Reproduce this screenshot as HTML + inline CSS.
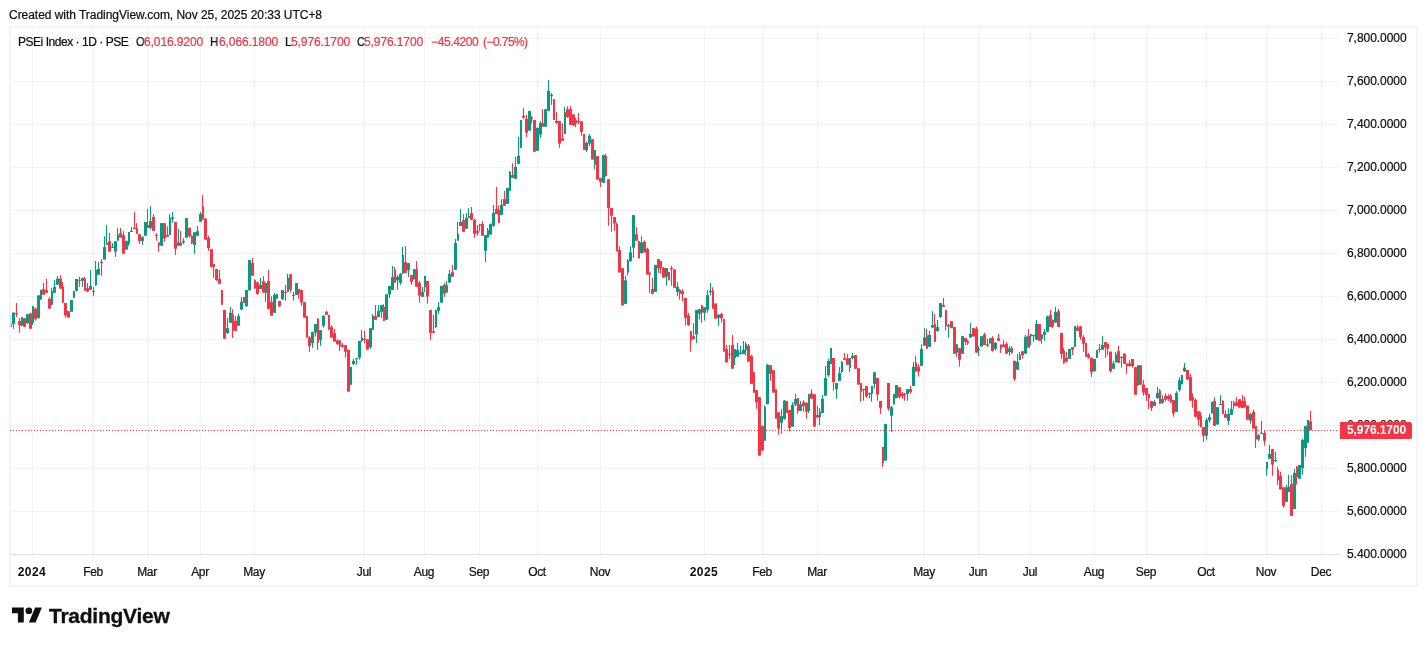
<!DOCTYPE html>
<html><head><meta charset="utf-8"><title>PSEi Index</title>
<style>
html,body{margin:0;padding:0;background:#fff;}
body{width:1427px;height:646px;position:relative;overflow:hidden;font-family:"Liberation Sans",sans-serif;color:#0f0f0f;}
.t,.pl,.tl{will-change:transform;-webkit-text-stroke:0.22px currentColor;}
.t{position:absolute;white-space:nowrap;font-size:12px;line-height:14px;}
.r{color:#f23645;}
.pl{position:absolute;left:1347px;width:60px;font-size:12px;line-height:14px;white-space:nowrap;}
.tl{position:absolute;top:565px;font-size:12px;line-height:14px;white-space:nowrap;transform:translateX(-50%);}
.b{font-weight:bold;-webkit-text-stroke:0;}
#tv{-webkit-text-stroke:0.3px currentColor;}
#pax{position:absolute;left:1340px;top:27px;width:76px;height:531px;overflow:hidden;}
</style></head><body>
<svg width="1427" height="646" viewBox="0 0 1427 646" style="position:absolute;left:0;top:0">
<rect x="32.00" y="27" width="1" height="531" fill="rgba(0,0,0,0.05)"/>
<rect x="93.00" y="27" width="1" height="531" fill="rgba(0,0,0,0.05)"/>
<rect x="147.00" y="27" width="1" height="531" fill="rgba(0,0,0,0.05)"/>
<rect x="200.00" y="27" width="1" height="531" fill="rgba(0,0,0,0.05)"/>
<rect x="254.00" y="27" width="1" height="531" fill="rgba(0,0,0,0.05)"/>
<rect x="364.00" y="27" width="1" height="531" fill="rgba(0,0,0,0.05)"/>
<rect x="424.00" y="27" width="1" height="531" fill="rgba(0,0,0,0.05)"/>
<rect x="479.00" y="27" width="1" height="531" fill="rgba(0,0,0,0.05)"/>
<rect x="537.00" y="27" width="1" height="531" fill="rgba(0,0,0,0.05)"/>
<rect x="600.00" y="27" width="1" height="531" fill="rgba(0,0,0,0.05)"/>
<rect x="704.00" y="27" width="1" height="531" fill="rgba(0,0,0,0.05)"/>
<rect x="762.00" y="27" width="1" height="531" fill="rgba(0,0,0,0.05)"/>
<rect x="817.00" y="27" width="1" height="531" fill="rgba(0,0,0,0.05)"/>
<rect x="924.00" y="27" width="1" height="531" fill="rgba(0,0,0,0.05)"/>
<rect x="978.00" y="27" width="1" height="531" fill="rgba(0,0,0,0.05)"/>
<rect x="1030.00" y="27" width="1" height="531" fill="rgba(0,0,0,0.05)"/>
<rect x="1094.00" y="27" width="1" height="531" fill="rgba(0,0,0,0.05)"/>
<rect x="1146.00" y="27" width="1" height="531" fill="rgba(0,0,0,0.05)"/>
<rect x="1206.00" y="27" width="1" height="531" fill="rgba(0,0,0,0.05)"/>
<rect x="1266.00" y="27" width="1" height="531" fill="rgba(0,0,0,0.05)"/>
<rect x="1321.00" y="27" width="1" height="531" fill="rgba(0,0,0,0.05)"/>
<rect x="11" y="38" width="1328" height="1" fill="rgba(0,0,0,0.05)"/>
<rect x="11" y="81" width="1328" height="1" fill="rgba(0,0,0,0.05)"/>
<rect x="11" y="124" width="1328" height="1" fill="rgba(0,0,0,0.05)"/>
<rect x="11" y="167" width="1328" height="1" fill="rgba(0,0,0,0.05)"/>
<rect x="11" y="210" width="1328" height="1" fill="rgba(0,0,0,0.05)"/>
<rect x="11" y="253" width="1328" height="1" fill="rgba(0,0,0,0.05)"/>
<rect x="11" y="296" width="1328" height="1" fill="rgba(0,0,0,0.05)"/>
<rect x="11" y="339" width="1328" height="1" fill="rgba(0,0,0,0.05)"/>
<rect x="11" y="382" width="1328" height="1" fill="rgba(0,0,0,0.05)"/>
<rect x="11" y="425" width="1328" height="1" fill="rgba(0,0,0,0.05)"/>
<rect x="11" y="468" width="1328" height="1" fill="rgba(0,0,0,0.05)"/>
<rect x="11" y="511" width="1328" height="1" fill="rgba(0,0,0,0.05)"/>
<rect x="11" y="554" width="1328" height="1" fill="rgba(0,0,0,0.05)"/>
<rect x="11" y="554" width="1328" height="1" fill="rgba(0,0,0,0.065)"/>
<rect x="9.95" y="26.75" width="1407.05" height="559.25" fill="none" stroke="#f3f3f3" stroke-width="1.8"/>
<defs><clipPath id="cp"><rect x="10.8" y="27.6" width="1328" height="527"/></clipPath></defs><g clip-path="url(#cp)">
<rect x="10.2" y="314.1" width="0.75" height="13.6" fill="#089981"/><rect x="10.9" y="323.5" width="0.9" height="3.7" fill="#089981"/>
<rect x="12.95" y="312.2" width="1.1" height="16.7" fill="#089981"/>
<rect x="12" y="312.7" width="3" height="11.2" fill="#089981"/>
<rect x="15.95" y="303.0" width="1.1" height="14.2" fill="#f23645"/>
<rect x="15" y="313.1" width="3" height="1.1" fill="#f23645"/>
<rect x="18.95" y="318.1" width="1.1" height="14.7" fill="#f23645"/>
<rect x="18" y="321.1" width="3" height="3.9" fill="#f23645"/>
<rect x="20.95" y="317.2" width="1.1" height="8.9" fill="#089981"/>
<rect x="21" y="317.2" width="2" height="8.6" fill="#089981"/>
<rect x="23.95" y="318.3" width="1.1" height="8.6" fill="#f23645"/>
<rect x="23" y="318.3" width="3" height="8.4" fill="#f23645"/>
<rect x="26.95" y="314.2" width="1.1" height="9.7" fill="#089981"/>
<rect x="26" y="314.2" width="3" height="8.9" fill="#089981"/>
<rect x="29.95" y="312.7" width="1.1" height="16.2" fill="#f23645"/>
<rect x="29" y="313.5" width="3" height="15.2" fill="#f23645"/>
<rect x="31.95" y="306.1" width="1.1" height="18.9" fill="#089981"/>
<rect x="32" y="306.1" width="2" height="17.0" fill="#089981"/>
<rect x="34.95" y="307.7" width="1.1" height="12.9" fill="#f23645"/>
<rect x="34" y="308.6" width="3" height="10.3" fill="#f23645"/>
<rect x="37.95" y="294.9" width="1.1" height="23.8" fill="#089981"/>
<rect x="37" y="295.5" width="3" height="22.3" fill="#089981"/>
<rect x="39.95" y="289.9" width="1.1" height="10.0" fill="#089981"/>
<rect x="40" y="289.9" width="2" height="9.5" fill="#089981"/>
<rect x="42.95" y="283.0" width="1.1" height="11.9" fill="#f23645"/>
<rect x="42" y="289.1" width="3" height="5.5" fill="#f23645"/>
<rect x="45.95" y="279.0" width="1.1" height="14.2" fill="#f23645"/>
<rect x="45" y="290.1" width="3" height="2.6" fill="#f23645"/>
<rect x="48.95" y="297.1" width="1.1" height="11.7" fill="#f23645"/>
<rect x="48" y="298.8" width="3" height="9.8" fill="#f23645"/>
<rect x="50.95" y="287.9" width="1.1" height="17.0" fill="#089981"/>
<rect x="51" y="291.2" width="2" height="13.5" fill="#089981"/>
<rect x="53.95" y="279.8" width="1.1" height="13.2" fill="#089981"/>
<rect x="53" y="287.1" width="3" height="5.6" fill="#089981"/>
<rect x="56.95" y="275.9" width="1.1" height="9.0" fill="#089981"/>
<rect x="56" y="278.7" width="3" height="5.9" fill="#089981"/>
<rect x="59.95" y="275.2" width="1.1" height="13.6" fill="#f23645"/>
<rect x="59" y="278.7" width="3" height="9.8" fill="#f23645"/>
<rect x="61.95" y="282.1" width="1.1" height="20.9" fill="#f23645"/>
<rect x="62" y="286.3" width="2" height="16.4" fill="#f23645"/>
<rect x="64.95" y="303.0" width="1.1" height="14.8" fill="#f23645"/>
<rect x="64" y="303.0" width="3" height="12.5" fill="#f23645"/>
<rect x="67.95" y="311.1" width="1.1" height="6.7" fill="#f23645"/>
<rect x="67" y="311.1" width="3" height="6.4" fill="#f23645"/>
<rect x="70.95" y="300.1" width="1.1" height="11.9" fill="#089981"/>
<rect x="70" y="300.1" width="3" height="11.5" fill="#089981"/>
<rect x="72.95" y="291.2" width="1.1" height="6.7" fill="#089981"/>
<rect x="73" y="291.2" width="2" height="6.5" fill="#089981"/>
<rect x="75.95" y="279.0" width="1.1" height="12.0" fill="#089981"/>
<rect x="75" y="279.0" width="3" height="11.8" fill="#089981"/>
<rect x="78.95" y="276.8" width="1.1" height="10.0" fill="#f23645"/>
<rect x="78" y="279.8" width="3" height="1.0" fill="#f23645"/>
<rect x="81.95" y="277.6" width="1.1" height="9.2" fill="#089981"/>
<rect x="81" y="278.2" width="3" height="2.5" fill="#089981"/>
<rect x="83.95" y="276.8" width="1.1" height="14.0" fill="#f23645"/>
<rect x="84" y="278.7" width="2" height="11.7" fill="#f23645"/>
<rect x="86.95" y="283.0" width="1.1" height="8.9" fill="#f23645"/>
<rect x="86" y="288.2" width="3" height="3.4" fill="#f23645"/>
<rect x="89.95" y="270.0" width="1.1" height="19.9" fill="#089981"/>
<rect x="89" y="286.0" width="3" height="3.7" fill="#089981"/>
<rect x="92.95" y="287.1" width="1.1" height="8.9" fill="#f23645"/>
<rect x="92" y="290.9" width="3" height="1.0" fill="#f23645"/>
<rect x="94.95" y="261.0" width="1.1" height="24.9" fill="#089981"/>
<rect x="95" y="269.7" width="2" height="15.6" fill="#089981"/>
<rect x="97.95" y="262.1" width="1.1" height="12.6" fill="#089981"/>
<rect x="97" y="269.1" width="3" height="5.6" fill="#089981"/>
<rect x="100.95" y="259.1" width="1.1" height="16.7" fill="#f23645"/>
<rect x="100" y="261.9" width="3" height="1.1" fill="#f23645"/>
<rect x="103.95" y="236.2" width="1.1" height="23.4" fill="#089981"/>
<rect x="103" y="247.2" width="3" height="12.4" fill="#089981"/>
<rect x="105.95" y="225.1" width="1.1" height="19.7" fill="#089981"/>
<rect x="106" y="242.9" width="2" height="1.9" fill="#089981"/>
<rect x="108.95" y="233.1" width="1.1" height="18.5" fill="#f23645"/>
<rect x="108" y="241.2" width="3" height="10.4" fill="#f23645"/>
<rect x="111.95" y="243.1" width="1.1" height="4.8" fill="#089981"/>
<rect x="111" y="246.8" width="3" height="1.1" fill="#089981"/>
<rect x="114.95" y="241.2" width="1.1" height="15.7" fill="#089981"/>
<rect x="114" y="241.2" width="3" height="10.4" fill="#089981"/>
<rect x="116.95" y="228.1" width="1.1" height="12.6" fill="#089981"/>
<rect x="117" y="234.9" width="2" height="5.8" fill="#089981"/>
<rect x="119.95" y="228.1" width="1.1" height="9.5" fill="#f23645"/>
<rect x="119" y="233.4" width="3" height="4.2" fill="#f23645"/>
<rect x="122.95" y="231.2" width="1.1" height="22.5" fill="#f23645"/>
<rect x="122" y="235.1" width="3" height="18.6" fill="#f23645"/>
<rect x="125.95" y="240.5" width="1.1" height="9.1" fill="#089981"/>
<rect x="125" y="241.2" width="3" height="8.4" fill="#089981"/>
<rect x="127.95" y="232.1" width="1.1" height="13.6" fill="#089981"/>
<rect x="128" y="232.1" width="2" height="11.7" fill="#089981"/>
<rect x="130.95" y="227.1" width="1.1" height="4.9" fill="#089981"/>
<rect x="130" y="230.9" width="3" height="1.1" fill="#089981"/>
<rect x="133.95" y="212.0" width="1.1" height="17.0" fill="#f23645"/>
<rect x="133" y="227.9" width="3" height="1.1" fill="#f23645"/>
<rect x="135.95" y="223.1" width="1.1" height="10.7" fill="#f23645"/>
<rect x="136" y="228.2" width="2" height="5.6" fill="#f23645"/>
<rect x="138.95" y="234.2" width="1.1" height="9.6" fill="#f23645"/>
<rect x="138" y="234.2" width="3" height="6.7" fill="#f23645"/>
<rect x="141.95" y="236.2" width="1.1" height="8.7" fill="#089981"/>
<rect x="141" y="237.3" width="3" height="3.6" fill="#089981"/>
<rect x="144.95" y="222.0" width="1.1" height="13.7" fill="#089981"/>
<rect x="144" y="222.0" width="3" height="13.7" fill="#089981"/>
<rect x="146.95" y="208.9" width="1.1" height="19.0" fill="#f23645"/>
<rect x="147" y="225.1" width="2" height="2.8" fill="#f23645"/>
<rect x="149.95" y="205.9" width="1.1" height="23.9" fill="#089981"/>
<rect x="149" y="221.2" width="3" height="6.7" fill="#089981"/>
<rect x="152.95" y="214.1" width="1.1" height="16.8" fill="#f23645"/>
<rect x="152" y="217.0" width="3" height="13.9" fill="#f23645"/>
<rect x="155.95" y="233.1" width="1.1" height="7.6" fill="#f23645"/>
<rect x="155" y="234.8" width="3" height="1.0" fill="#f23645"/>
<rect x="157.95" y="242.4" width="1.1" height="9.4" fill="#f23645"/>
<rect x="158" y="242.4" width="2" height="3.3" fill="#f23645"/>
<rect x="160.95" y="223.1" width="1.1" height="22.6" fill="#089981"/>
<rect x="160" y="223.1" width="3" height="22.6" fill="#089981"/>
<rect x="163.95" y="223.1" width="1.1" height="18.7" fill="#f23645"/>
<rect x="163" y="223.1" width="3" height="15.4" fill="#f23645"/>
<rect x="166.95" y="226.2" width="1.1" height="10.6" fill="#f23645"/>
<rect x="166" y="235.1" width="3" height="1.7" fill="#f23645"/>
<rect x="168.95" y="214.1" width="1.1" height="20.8" fill="#089981"/>
<rect x="169" y="217.8" width="2" height="17.1" fill="#089981"/>
<rect x="171.95" y="212.0" width="1.1" height="10.8" fill="#089981"/>
<rect x="171" y="217.3" width="3" height="1.6" fill="#089981"/>
<rect x="174.95" y="222.0" width="1.1" height="32.9" fill="#f23645"/>
<rect x="174" y="222.0" width="3" height="26.7" fill="#f23645"/>
<rect x="177.95" y="229.0" width="1.1" height="16.7" fill="#089981"/>
<rect x="177" y="242.4" width="3" height="3.3" fill="#089981"/>
<rect x="179.95" y="231.0" width="1.1" height="14.8" fill="#f23645"/>
<rect x="180" y="243.0" width="2" height="2.8" fill="#f23645"/>
<rect x="182.95" y="238.2" width="1.1" height="5.9" fill="#089981"/>
<rect x="182" y="241.1" width="3" height="1.3" fill="#089981"/>
<rect x="185.95" y="218.1" width="1.1" height="19.6" fill="#089981"/>
<rect x="185" y="218.1" width="3" height="19.6" fill="#089981"/>
<rect x="188.95" y="227.4" width="1.1" height="10.6" fill="#f23645"/>
<rect x="188" y="228.1" width="3" height="7.8" fill="#f23645"/>
<rect x="190.95" y="235.2" width="1.1" height="8.9" fill="#f23645"/>
<rect x="191" y="235.9" width="2" height="7.4" fill="#f23645"/>
<rect x="193.95" y="232.2" width="1.1" height="21.6" fill="#089981"/>
<rect x="193" y="232.2" width="3" height="12.7" fill="#089981"/>
<rect x="196.95" y="225.9" width="1.1" height="9.8" fill="#089981"/>
<rect x="196" y="231.3" width="3" height="4.4" fill="#089981"/>
<rect x="199.95" y="212.0" width="1.1" height="9.8" fill="#089981"/>
<rect x="199" y="214.0" width="3" height="7.8" fill="#089981"/>
<rect x="201.95" y="195.0" width="1.1" height="24.6" fill="#f23645"/>
<rect x="202" y="206.2" width="2" height="13.4" fill="#f23645"/>
<rect x="204.95" y="217.9" width="1.1" height="21.7" fill="#f23645"/>
<rect x="204" y="218.8" width="3" height="20.8" fill="#f23645"/>
<rect x="207.95" y="235.7" width="1.1" height="15.1" fill="#f23645"/>
<rect x="207" y="238.0" width="3" height="10.0" fill="#f23645"/>
<rect x="210.95" y="249.1" width="1.1" height="18.5" fill="#f23645"/>
<rect x="210" y="249.1" width="3" height="17.8" fill="#f23645"/>
<rect x="212.95" y="264.0" width="1.1" height="13.9" fill="#f23645"/>
<rect x="213" y="264.0" width="2" height="2.9" fill="#f23645"/>
<rect x="215.95" y="269.1" width="1.1" height="11.8" fill="#f23645"/>
<rect x="215" y="269.1" width="3" height="11.0" fill="#f23645"/>
<rect x="218.95" y="269.9" width="1.1" height="13.9" fill="#f23645"/>
<rect x="218" y="279.1" width="3" height="4.7" fill="#f23645"/>
<rect x="220.95" y="290.0" width="1.1" height="14.7" fill="#f23645"/>
<rect x="221" y="290.0" width="2" height="14.7" fill="#f23645"/>
<rect x="223.95" y="310.0" width="1.1" height="28.7" fill="#f23645"/>
<rect x="223" y="310.0" width="3" height="28.7" fill="#f23645"/>
<rect x="226.95" y="317.9" width="1.1" height="15.9" fill="#089981"/>
<rect x="226" y="328.2" width="3" height="4.9" fill="#089981"/>
<rect x="229.95" y="307.1" width="1.1" height="15.7" fill="#089981"/>
<rect x="229" y="312.9" width="3" height="9.9" fill="#089981"/>
<rect x="231.95" y="309.1" width="1.1" height="28.8" fill="#f23645"/>
<rect x="232" y="314.7" width="2" height="15.9" fill="#f23645"/>
<rect x="234.95" y="316.2" width="1.1" height="14.7" fill="#f23645"/>
<rect x="234" y="320.9" width="3" height="10.0" fill="#f23645"/>
<rect x="237.95" y="314.0" width="1.1" height="11.7" fill="#089981"/>
<rect x="237" y="316.2" width="3" height="9.5" fill="#089981"/>
<rect x="240.95" y="297.1" width="1.1" height="12.5" fill="#089981"/>
<rect x="240" y="301.8" width="3" height="7.8" fill="#089981"/>
<rect x="242.95" y="297.1" width="1.1" height="5.8" fill="#f23645"/>
<rect x="243" y="297.1" width="2" height="5.8" fill="#f23645"/>
<rect x="245.95" y="290.0" width="1.1" height="17.1" fill="#089981"/>
<rect x="245" y="290.0" width="3" height="15.9" fill="#089981"/>
<rect x="248.95" y="260.0" width="1.1" height="30.4" fill="#089981"/>
<rect x="248" y="260.0" width="3" height="30.4" fill="#089981"/>
<rect x="251.95" y="258.1" width="1.1" height="17.6" fill="#f23645"/>
<rect x="251" y="262.9" width="3" height="12.8" fill="#f23645"/>
<rect x="253.95" y="279.1" width="1.1" height="9.9" fill="#f23645"/>
<rect x="254" y="280.1" width="2" height="8.1" fill="#f23645"/>
<rect x="256.95" y="281.6" width="1.1" height="13.3" fill="#f23645"/>
<rect x="256" y="282.4" width="3" height="11.4" fill="#f23645"/>
<rect x="259.95" y="277.9" width="1.1" height="11.1" fill="#089981"/>
<rect x="259" y="285.0" width="3" height="4.0" fill="#089981"/>
<rect x="262.95" y="276.2" width="1.1" height="16.4" fill="#f23645"/>
<rect x="262" y="281.2" width="3" height="11.4" fill="#f23645"/>
<rect x="264.95" y="283.1" width="1.1" height="18.7" fill="#089981"/>
<rect x="265" y="283.1" width="2" height="9.5" fill="#089981"/>
<rect x="267.95" y="269.9" width="1.1" height="39.7" fill="#f23645"/>
<rect x="267" y="280.9" width="3" height="27.9" fill="#f23645"/>
<rect x="270.95" y="296.3" width="1.1" height="19.4" fill="#f23645"/>
<rect x="270" y="302.2" width="3" height="13.5" fill="#f23645"/>
<rect x="273.95" y="292.9" width="1.1" height="19.9" fill="#089981"/>
<rect x="273" y="294.9" width="3" height="17.9" fill="#089981"/>
<rect x="275.95" y="294.1" width="1.1" height="4.4" fill="#089981"/>
<rect x="276" y="294.1" width="2" height="4.4" fill="#089981"/>
<rect x="278.95" y="301.0" width="1.1" height="6.1" fill="#f23645"/>
<rect x="278" y="301.0" width="3" height="5.2" fill="#f23645"/>
<rect x="281.95" y="290.0" width="1.1" height="10.0" fill="#089981"/>
<rect x="281" y="290.0" width="3" height="9.3" fill="#089981"/>
<rect x="284.95" y="285.0" width="1.1" height="15.7" fill="#f23645"/>
<rect x="284" y="291.9" width="3" height="1.0" fill="#f23645"/>
<rect x="286.95" y="273.8" width="1.1" height="18.1" fill="#089981"/>
<rect x="287" y="277.9" width="2" height="14.0" fill="#089981"/>
<rect x="289.95" y="274.3" width="1.1" height="18.3" fill="#f23645"/>
<rect x="289" y="274.3" width="3" height="15.4" fill="#f23645"/>
<rect x="292.95" y="291.9" width="1.1" height="8.8" fill="#089981"/>
<rect x="292" y="294.9" width="3" height="1.0" fill="#089981"/>
<rect x="295.95" y="283.1" width="1.1" height="11.8" fill="#089981"/>
<rect x="295" y="283.1" width="3" height="11.8" fill="#089981"/>
<rect x="297.95" y="289.0" width="1.1" height="9.8" fill="#f23645"/>
<rect x="298" y="289.0" width="2" height="4.4" fill="#f23645"/>
<rect x="300.95" y="290.2" width="1.1" height="15.7" fill="#f23645"/>
<rect x="300" y="290.2" width="3" height="12.3" fill="#f23645"/>
<rect x="303.95" y="302.2" width="1.1" height="15.4" fill="#f23645"/>
<rect x="303" y="302.2" width="3" height="15.4" fill="#f23645"/>
<rect x="305.95" y="316.2" width="1.1" height="21.4" fill="#f23645"/>
<rect x="306" y="316.2" width="2" height="21.4" fill="#f23645"/>
<rect x="308.95" y="336.0" width="1.1" height="15.9" fill="#f23645"/>
<rect x="308" y="337.4" width="3" height="8.6" fill="#f23645"/>
<rect x="311.95" y="332.1" width="1.1" height="15.8" fill="#089981"/>
<rect x="311" y="332.1" width="3" height="10.9" fill="#089981"/>
<rect x="314.95" y="324.0" width="1.1" height="12.5" fill="#089981"/>
<rect x="314" y="324.0" width="3" height="8.6" fill="#089981"/>
<rect x="316.95" y="318.1" width="1.1" height="31.8" fill="#f23645"/>
<rect x="317" y="318.7" width="2" height="24.0" fill="#f23645"/>
<rect x="319.95" y="330.1" width="1.1" height="15.6" fill="#089981"/>
<rect x="319" y="330.1" width="3" height="9.8" fill="#089981"/>
<rect x="322.95" y="315.1" width="1.1" height="12.7" fill="#089981"/>
<rect x="322" y="315.9" width="3" height="10.0" fill="#089981"/>
<rect x="325.95" y="310.9" width="1.1" height="3.9" fill="#f23645"/>
<rect x="325" y="311.8" width="3" height="3.0" fill="#f23645"/>
<rect x="327.95" y="315.1" width="1.1" height="14.7" fill="#f23645"/>
<rect x="328" y="315.1" width="2" height="14.2" fill="#f23645"/>
<rect x="330.95" y="325.2" width="1.1" height="12.4" fill="#f23645"/>
<rect x="330" y="327.1" width="3" height="10.5" fill="#f23645"/>
<rect x="333.95" y="328.9" width="1.1" height="12.7" fill="#f23645"/>
<rect x="333" y="333.2" width="3" height="8.4" fill="#f23645"/>
<rect x="336.95" y="339.3" width="1.1" height="5.6" fill="#f23645"/>
<rect x="336" y="340.4" width="3" height="3.7" fill="#f23645"/>
<rect x="338.95" y="340.4" width="1.1" height="10.6" fill="#f23645"/>
<rect x="339" y="340.4" width="2" height="6.2" fill="#f23645"/>
<rect x="341.95" y="343.2" width="1.1" height="4.5" fill="#f23645"/>
<rect x="341" y="345.2" width="3" height="1.6" fill="#f23645"/>
<rect x="344.95" y="345.2" width="1.1" height="12.5" fill="#f23645"/>
<rect x="344" y="345.2" width="3" height="6.5" fill="#f23645"/>
<rect x="347.95" y="349.9" width="1.1" height="41.7" fill="#f23645"/>
<rect x="347" y="349.9" width="3" height="41.7" fill="#f23645"/>
<rect x="349.95" y="367.0" width="1.1" height="18.2" fill="#089981"/>
<rect x="350" y="367.0" width="2" height="17.7" fill="#089981"/>
<rect x="352.95" y="359.0" width="1.1" height="6.2" fill="#089981"/>
<rect x="352" y="361.0" width="3" height="3.0" fill="#089981"/>
<rect x="355.95" y="358.2" width="1.1" height="6.5" fill="#089981"/>
<rect x="355" y="358.2" width="3" height="1.0" fill="#089981"/>
<rect x="358.95" y="341.0" width="1.1" height="18.6" fill="#089981"/>
<rect x="358" y="341.0" width="3" height="16.7" fill="#089981"/>
<rect x="360.95" y="330.1" width="1.1" height="11.5" fill="#089981"/>
<rect x="361" y="337.6" width="2" height="3.4" fill="#089981"/>
<rect x="363.95" y="331.0" width="1.1" height="12.2" fill="#f23645"/>
<rect x="363" y="338.8" width="3" height="1.3" fill="#f23645"/>
<rect x="366.95" y="339.3" width="1.1" height="10.6" fill="#f23645"/>
<rect x="366" y="339.3" width="3" height="10.1" fill="#f23645"/>
<rect x="369.95" y="328.2" width="1.1" height="20.6" fill="#089981"/>
<rect x="369" y="328.2" width="3" height="18.9" fill="#089981"/>
<rect x="371.95" y="314.0" width="1.1" height="15.8" fill="#089981"/>
<rect x="372" y="315.9" width="2" height="13.9" fill="#089981"/>
<rect x="374.95" y="305.1" width="1.1" height="14.7" fill="#f23645"/>
<rect x="374" y="316.2" width="3" height="3.6" fill="#f23645"/>
<rect x="377.95" y="305.1" width="1.1" height="11.9" fill="#089981"/>
<rect x="377" y="311.1" width="3" height="5.9" fill="#089981"/>
<rect x="380.95" y="305.1" width="1.1" height="12.7" fill="#089981"/>
<rect x="380" y="305.1" width="3" height="6.7" fill="#089981"/>
<rect x="382.95" y="304.2" width="1.1" height="16.7" fill="#f23645"/>
<rect x="383" y="307.0" width="2" height="13.9" fill="#f23645"/>
<rect x="385.95" y="294.3" width="1.1" height="25.7" fill="#089981"/>
<rect x="385" y="294.3" width="3" height="25.4" fill="#089981"/>
<rect x="388.95" y="285.9" width="1.1" height="12.0" fill="#089981"/>
<rect x="388" y="285.9" width="3" height="8.4" fill="#089981"/>
<rect x="391.95" y="265.9" width="1.1" height="23.9" fill="#089981"/>
<rect x="391" y="277.0" width="3" height="12.8" fill="#089981"/>
<rect x="393.95" y="267.0" width="1.1" height="15.6" fill="#f23645"/>
<rect x="394" y="269.8" width="2" height="12.8" fill="#f23645"/>
<rect x="396.95" y="275.1" width="1.1" height="14.7" fill="#089981"/>
<rect x="396" y="277.0" width="3" height="3.4" fill="#089981"/>
<rect x="399.95" y="272.9" width="1.1" height="11.9" fill="#089981"/>
<rect x="399" y="274.0" width="3" height="8.9" fill="#089981"/>
<rect x="401.95" y="246.9" width="1.1" height="26.8" fill="#089981"/>
<rect x="402" y="255.0" width="2" height="18.7" fill="#089981"/>
<rect x="404.95" y="246.1" width="1.1" height="26.8" fill="#f23645"/>
<rect x="404" y="262.2" width="3" height="10.7" fill="#f23645"/>
<rect x="407.95" y="263.1" width="1.1" height="13.9" fill="#089981"/>
<rect x="407" y="263.1" width="3" height="6.9" fill="#089981"/>
<rect x="410.95" y="275.1" width="1.1" height="9.7" fill="#f23645"/>
<rect x="410" y="275.1" width="3" height="6.7" fill="#f23645"/>
<rect x="412.95" y="269.2" width="1.1" height="10.6" fill="#089981"/>
<rect x="413" y="269.2" width="2" height="10.0" fill="#089981"/>
<rect x="415.95" y="261.1" width="1.1" height="25.6" fill="#f23645"/>
<rect x="415" y="269.2" width="3" height="17.5" fill="#f23645"/>
<rect x="418.95" y="280.9" width="1.1" height="21.8" fill="#f23645"/>
<rect x="418" y="282.9" width="3" height="12.7" fill="#f23645"/>
<rect x="421.95" y="287.1" width="1.1" height="9.7" fill="#089981"/>
<rect x="421" y="292.1" width="3" height="4.7" fill="#089981"/>
<rect x="423.95" y="275.9" width="1.1" height="16.2" fill="#089981"/>
<rect x="424" y="275.9" width="2" height="11.2" fill="#089981"/>
<rect x="426.95" y="280.9" width="1.1" height="22.9" fill="#f23645"/>
<rect x="426" y="280.9" width="3" height="15.6" fill="#f23645"/>
<rect x="429.95" y="310.1" width="1.1" height="29.8" fill="#f23645"/>
<rect x="429" y="310.1" width="3" height="22.8" fill="#f23645"/>
<rect x="432.95" y="315.0" width="1.1" height="17.9" fill="#f23645"/>
<rect x="432" y="331.2" width="3" height="1.7" fill="#f23645"/>
<rect x="434.95" y="310.1" width="1.1" height="17.8" fill="#089981"/>
<rect x="435" y="310.1" width="2" height="17.0" fill="#089981"/>
<rect x="437.95" y="302.1" width="1.1" height="11.7" fill="#089981"/>
<rect x="437" y="307.1" width="3" height="3.7" fill="#089981"/>
<rect x="440.95" y="285.9" width="1.1" height="16.8" fill="#089981"/>
<rect x="440" y="285.9" width="3" height="16.8" fill="#089981"/>
<rect x="443.95" y="282.9" width="1.1" height="13.9" fill="#f23645"/>
<rect x="443" y="284.8" width="3" height="8.9" fill="#f23645"/>
<rect x="445.95" y="281.1" width="1.1" height="11.5" fill="#089981"/>
<rect x="446" y="285.2" width="2" height="7.4" fill="#089981"/>
<rect x="448.95" y="270.0" width="1.1" height="12.6" fill="#089981"/>
<rect x="448" y="274.0" width="3" height="8.6" fill="#089981"/>
<rect x="451.95" y="265.1" width="1.1" height="11.6" fill="#f23645"/>
<rect x="451" y="272.2" width="3" height="4.5" fill="#f23645"/>
<rect x="454.95" y="239.1" width="1.1" height="30.7" fill="#089981"/>
<rect x="454" y="243.0" width="3" height="26.8" fill="#089981"/>
<rect x="456.95" y="222.0" width="1.1" height="18.7" fill="#089981"/>
<rect x="457" y="234.0" width="2" height="6.7" fill="#089981"/>
<rect x="459.95" y="208.9" width="1.1" height="17.1" fill="#089981"/>
<rect x="459" y="222.0" width="3" height="4.0" fill="#089981"/>
<rect x="462.95" y="214.2" width="1.1" height="17.6" fill="#f23645"/>
<rect x="462" y="220.1" width="3" height="11.7" fill="#f23645"/>
<rect x="465.95" y="213.1" width="1.1" height="15.6" fill="#089981"/>
<rect x="465" y="217.9" width="3" height="10.8" fill="#089981"/>
<rect x="467.95" y="208.2" width="1.1" height="9.7" fill="#089981"/>
<rect x="468" y="216.0" width="2" height="1.9" fill="#089981"/>
<rect x="470.95" y="207.0" width="1.1" height="12.8" fill="#f23645"/>
<rect x="470" y="213.1" width="3" height="6.7" fill="#f23645"/>
<rect x="473.95" y="219.0" width="1.1" height="18.9" fill="#f23645"/>
<rect x="473" y="219.8" width="3" height="14.0" fill="#f23645"/>
<rect x="476.95" y="224.9" width="1.1" height="10.8" fill="#f23645"/>
<rect x="476" y="230.9" width="3" height="2.0" fill="#f23645"/>
<rect x="478.95" y="223.8" width="1.1" height="7.4" fill="#f23645"/>
<rect x="479" y="224.2" width="2" height="1.5" fill="#f23645"/>
<rect x="481.95" y="221.2" width="1.1" height="14.5" fill="#f23645"/>
<rect x="481" y="224.0" width="3" height="11.7" fill="#f23645"/>
<rect x="484.95" y="235.1" width="1.1" height="26.8" fill="#089981"/>
<rect x="484" y="235.1" width="3" height="15.7" fill="#089981"/>
<rect x="486.95" y="227.9" width="1.1" height="9.7" fill="#089981"/>
<rect x="487" y="230.1" width="2" height="7.5" fill="#089981"/>
<rect x="489.95" y="223.4" width="1.1" height="11.2" fill="#089981"/>
<rect x="489" y="224.2" width="3" height="10.4" fill="#089981"/>
<rect x="492.95" y="205.0" width="1.1" height="21.8" fill="#089981"/>
<rect x="492" y="213.1" width="3" height="12.6" fill="#089981"/>
<rect x="495.95" y="186.8" width="1.1" height="27.3" fill="#f23645"/>
<rect x="495" y="209.1" width="3" height="5.0" fill="#f23645"/>
<rect x="497.95" y="205.8" width="1.1" height="17.1" fill="#f23645"/>
<rect x="498" y="210.2" width="2" height="12.7" fill="#f23645"/>
<rect x="500.95" y="199.1" width="1.1" height="15.8" fill="#089981"/>
<rect x="500" y="204.9" width="3" height="10.0" fill="#089981"/>
<rect x="503.95" y="191.0" width="1.1" height="14.8" fill="#f23645"/>
<rect x="503" y="199.1" width="3" height="6.7" fill="#f23645"/>
<rect x="506.95" y="188.1" width="1.1" height="15.7" fill="#089981"/>
<rect x="506" y="188.1" width="3" height="15.7" fill="#089981"/>
<rect x="508.95" y="171.0" width="1.1" height="19.7" fill="#089981"/>
<rect x="509" y="171.7" width="2" height="19.0" fill="#089981"/>
<rect x="511.95" y="163.2" width="1.1" height="14.7" fill="#f23645"/>
<rect x="511" y="175.1" width="3" height="2.8" fill="#f23645"/>
<rect x="514.95" y="156.9" width="1.1" height="21.9" fill="#089981"/>
<rect x="514" y="167.0" width="3" height="11.8" fill="#089981"/>
<rect x="517.95" y="136.9" width="1.1" height="27.1" fill="#089981"/>
<rect x="517" y="156.0" width="3" height="7.9" fill="#089981"/>
<rect x="519.95" y="120.0" width="1.1" height="27.8" fill="#089981"/>
<rect x="520" y="120.0" width="2" height="27.8" fill="#089981"/>
<rect x="522.95" y="107.9" width="1.1" height="11.0" fill="#f23645"/>
<rect x="522" y="115.7" width="3" height="1.7" fill="#f23645"/>
<rect x="525.95" y="114.8" width="1.1" height="22.1" fill="#f23645"/>
<rect x="525" y="118.9" width="3" height="13.7" fill="#f23645"/>
<rect x="528.95" y="110.9" width="1.1" height="19.7" fill="#089981"/>
<rect x="528" y="110.9" width="3" height="19.7" fill="#089981"/>
<rect x="530.95" y="115.7" width="1.1" height="7.8" fill="#f23645"/>
<rect x="531" y="117.4" width="2" height="1.5" fill="#f23645"/>
<rect x="533.95" y="120.0" width="1.1" height="31.7" fill="#f23645"/>
<rect x="533" y="120.0" width="3" height="31.7" fill="#f23645"/>
<rect x="536.95" y="127.4" width="1.1" height="23.4" fill="#089981"/>
<rect x="536" y="128.0" width="3" height="22.8" fill="#089981"/>
<rect x="539.95" y="120.9" width="1.1" height="16.9" fill="#089981"/>
<rect x="539" y="123.1" width="3" height="11.4" fill="#089981"/>
<rect x="541.95" y="109.2" width="1.1" height="17.5" fill="#f23645"/>
<rect x="542" y="123.1" width="2" height="3.6" fill="#f23645"/>
<rect x="544.95" y="109.2" width="1.1" height="17.5" fill="#089981"/>
<rect x="544" y="109.2" width="3" height="17.5" fill="#089981"/>
<rect x="547.95" y="79.9" width="1.1" height="31.0" fill="#089981"/>
<rect x="547" y="91.0" width="3" height="19.9" fill="#089981"/>
<rect x="550.95" y="92.9" width="1.1" height="12.0" fill="#089981"/>
<rect x="550" y="94.9" width="3" height="1.3" fill="#089981"/>
<rect x="552.95" y="99.2" width="1.1" height="20.8" fill="#f23645"/>
<rect x="553" y="99.2" width="2" height="20.8" fill="#f23645"/>
<rect x="555.95" y="112.2" width="1.1" height="11.7" fill="#f23645"/>
<rect x="555" y="120.9" width="3" height="1.9" fill="#f23645"/>
<rect x="558.95" y="120.9" width="1.1" height="26.9" fill="#f23645"/>
<rect x="558" y="120.9" width="3" height="22.7" fill="#f23645"/>
<rect x="561.95" y="123.1" width="1.1" height="17.7" fill="#f23645"/>
<rect x="561" y="138.4" width="3" height="2.4" fill="#f23645"/>
<rect x="563.95" y="107.0" width="1.1" height="26.9" fill="#089981"/>
<rect x="564" y="112.2" width="2" height="21.7" fill="#089981"/>
<rect x="566.95" y="106.2" width="1.1" height="11.4" fill="#f23645"/>
<rect x="566" y="109.2" width="3" height="7.8" fill="#f23645"/>
<rect x="569.95" y="106.2" width="1.1" height="19.0" fill="#f23645"/>
<rect x="569" y="109.2" width="3" height="15.6" fill="#f23645"/>
<rect x="572.95" y="114.4" width="1.1" height="11.7" fill="#f23645"/>
<rect x="572" y="114.4" width="3" height="10.8" fill="#f23645"/>
<rect x="574.95" y="117.9" width="1.1" height="9.1" fill="#f23645"/>
<rect x="575" y="120.2" width="2" height="3.3" fill="#f23645"/>
<rect x="577.95" y="113.1" width="1.1" height="10.8" fill="#f23645"/>
<rect x="577" y="120.9" width="3" height="1.3" fill="#f23645"/>
<rect x="580.95" y="120.9" width="1.1" height="14.9" fill="#f23645"/>
<rect x="580" y="121.5" width="3" height="10.4" fill="#f23645"/>
<rect x="582.95" y="133.9" width="1.1" height="16.0" fill="#f23645"/>
<rect x="583" y="133.9" width="2" height="16.0" fill="#f23645"/>
<rect x="585.95" y="141.7" width="1.1" height="10.4" fill="#089981"/>
<rect x="585" y="143.0" width="3" height="6.9" fill="#089981"/>
<rect x="588.95" y="133.9" width="1.1" height="12.3" fill="#089981"/>
<rect x="588" y="135.8" width="3" height="7.8" fill="#089981"/>
<rect x="591.95" y="139.2" width="1.1" height="20.3" fill="#f23645"/>
<rect x="591" y="139.2" width="3" height="20.3" fill="#f23645"/>
<rect x="593.95" y="150.0" width="1.1" height="19.6" fill="#089981"/>
<rect x="594" y="150.0" width="2" height="14.7" fill="#089981"/>
<rect x="596.95" y="156.0" width="1.1" height="23.6" fill="#f23645"/>
<rect x="596" y="156.0" width="3" height="23.6" fill="#f23645"/>
<rect x="599.95" y="178.2" width="1.1" height="8.7" fill="#f23645"/>
<rect x="599" y="178.2" width="3" height="3.6" fill="#f23645"/>
<rect x="602.95" y="155.1" width="1.1" height="27.7" fill="#089981"/>
<rect x="602" y="155.1" width="3" height="27.7" fill="#089981"/>
<rect x="604.95" y="154.1" width="1.1" height="22.5" fill="#f23645"/>
<rect x="605" y="155.8" width="2" height="20.3" fill="#f23645"/>
<rect x="607.95" y="179.2" width="1.1" height="46.7" fill="#f23645"/>
<rect x="607" y="179.2" width="3" height="28.7" fill="#f23645"/>
<rect x="610.95" y="208.1" width="1.1" height="23.8" fill="#f23645"/>
<rect x="610" y="208.1" width="3" height="7.6" fill="#f23645"/>
<rect x="613.95" y="217.0" width="1.1" height="13.7" fill="#f23645"/>
<rect x="613" y="217.0" width="3" height="6.5" fill="#f23645"/>
<rect x="615.95" y="222.5" width="1.1" height="28.8" fill="#f23645"/>
<rect x="616" y="223.8" width="2" height="27.5" fill="#f23645"/>
<rect x="618.95" y="246.3" width="1.1" height="26.2" fill="#f23645"/>
<rect x="618" y="250.0" width="3" height="22.5" fill="#f23645"/>
<rect x="621.95" y="268.2" width="1.1" height="37.2" fill="#f23645"/>
<rect x="621" y="268.2" width="3" height="37.2" fill="#f23645"/>
<rect x="624.95" y="276.0" width="1.1" height="27.9" fill="#089981"/>
<rect x="624" y="280.3" width="3" height="23.6" fill="#089981"/>
<rect x="626.95" y="259.2" width="1.1" height="16.3" fill="#089981"/>
<rect x="627" y="260.4" width="2" height="12.1" fill="#089981"/>
<rect x="629.95" y="246.3" width="1.1" height="15.3" fill="#089981"/>
<rect x="629" y="252.3" width="3" height="8.7" fill="#089981"/>
<rect x="632.95" y="215.1" width="1.1" height="42.9" fill="#089981"/>
<rect x="632" y="215.1" width="3" height="32.6" fill="#089981"/>
<rect x="635.95" y="227.0" width="1.1" height="13.7" fill="#f23645"/>
<rect x="635" y="234.3" width="3" height="6.4" fill="#f23645"/>
<rect x="637.95" y="241.2" width="1.1" height="17.1" fill="#f23645"/>
<rect x="638" y="241.2" width="2" height="17.1" fill="#f23645"/>
<rect x="640.95" y="236.2" width="1.1" height="17.5" fill="#089981"/>
<rect x="640" y="242.3" width="3" height="10.8" fill="#089981"/>
<rect x="643.95" y="240.2" width="1.1" height="12.3" fill="#f23645"/>
<rect x="643" y="242.0" width="3" height="10.5" fill="#f23645"/>
<rect x="646.95" y="247.7" width="1.1" height="26.8" fill="#f23645"/>
<rect x="646" y="248.9" width="3" height="25.6" fill="#f23645"/>
<rect x="648.95" y="272.5" width="1.1" height="20.5" fill="#f23645"/>
<rect x="649" y="272.5" width="2" height="2.0" fill="#f23645"/>
<rect x="651.95" y="277.9" width="1.1" height="15.9" fill="#f23645"/>
<rect x="651" y="289.0" width="3" height="4.8" fill="#f23645"/>
<rect x="654.95" y="264.9" width="1.1" height="26.9" fill="#089981"/>
<rect x="654" y="264.9" width="3" height="26.9" fill="#089981"/>
<rect x="657.95" y="259.2" width="1.1" height="13.8" fill="#f23645"/>
<rect x="657" y="259.2" width="3" height="9.0" fill="#f23645"/>
<rect x="659.95" y="261.0" width="1.1" height="12.7" fill="#f23645"/>
<rect x="660" y="261.0" width="2" height="7.2" fill="#f23645"/>
<rect x="662.95" y="267.0" width="1.1" height="10.7" fill="#f23645"/>
<rect x="662" y="268.0" width="3" height="9.7" fill="#f23645"/>
<rect x="665.95" y="268.0" width="1.1" height="17.7" fill="#089981"/>
<rect x="665" y="268.0" width="3" height="8.7" fill="#089981"/>
<rect x="667.95" y="271.9" width="1.1" height="8.4" fill="#f23645"/>
<rect x="668" y="271.9" width="2" height="8.4" fill="#f23645"/>
<rect x="670.95" y="266.0" width="1.1" height="19.7" fill="#f23645"/>
<rect x="670" y="268.0" width="3" height="1.2" fill="#f23645"/>
<rect x="673.95" y="268.8" width="1.1" height="19.0" fill="#f23645"/>
<rect x="673" y="269.7" width="3" height="18.1" fill="#f23645"/>
<rect x="676.95" y="282.1" width="1.1" height="13.9" fill="#089981"/>
<rect x="676" y="287.0" width="3" height="4.8" fill="#089981"/>
<rect x="678.95" y="289.0" width="1.1" height="10.6" fill="#f23645"/>
<rect x="679" y="290.0" width="2" height="3.6" fill="#f23645"/>
<rect x="681.95" y="289.0" width="1.1" height="12.1" fill="#f23645"/>
<rect x="681" y="291.2" width="3" height="3.0" fill="#f23645"/>
<rect x="684.95" y="298.0" width="1.1" height="27.8" fill="#f23645"/>
<rect x="684" y="298.0" width="3" height="19.8" fill="#f23645"/>
<rect x="687.95" y="312.8" width="1.1" height="13.0" fill="#f23645"/>
<rect x="687" y="315.3" width="3" height="9.9" fill="#f23645"/>
<rect x="689.95" y="331.0" width="1.1" height="20.8" fill="#f23645"/>
<rect x="690" y="331.0" width="2" height="9.7" fill="#f23645"/>
<rect x="692.95" y="323.1" width="1.1" height="16.1" fill="#f23645"/>
<rect x="692" y="336.3" width="3" height="2.9" fill="#f23645"/>
<rect x="695.95" y="310.0" width="1.1" height="32.9" fill="#089981"/>
<rect x="695" y="310.0" width="3" height="24.5" fill="#089981"/>
<rect x="698.95" y="309.1" width="1.1" height="10.5" fill="#089981"/>
<rect x="698" y="309.1" width="3" height="4.6" fill="#089981"/>
<rect x="700.95" y="304.8" width="1.1" height="17.9" fill="#f23645"/>
<rect x="701" y="305.4" width="2" height="7.0" fill="#f23645"/>
<rect x="703.95" y="307.2" width="1.1" height="13.4" fill="#089981"/>
<rect x="703" y="307.2" width="3" height="5.6" fill="#089981"/>
<rect x="706.95" y="290.2" width="1.1" height="22.6" fill="#089981"/>
<rect x="706" y="295.1" width="3" height="14.6" fill="#089981"/>
<rect x="709.95" y="283.1" width="1.1" height="12.4" fill="#089981"/>
<rect x="709" y="290.9" width="3" height="1.2" fill="#089981"/>
<rect x="711.95" y="287.2" width="1.1" height="21.5" fill="#f23645"/>
<rect x="712" y="290.5" width="2" height="18.2" fill="#f23645"/>
<rect x="714.95" y="303.5" width="1.1" height="15.1" fill="#f23645"/>
<rect x="714" y="303.5" width="3" height="15.1" fill="#f23645"/>
<rect x="717.95" y="314.0" width="1.1" height="11.8" fill="#089981"/>
<rect x="717" y="314.7" width="3" height="3.1" fill="#089981"/>
<rect x="720.95" y="312.8" width="1.1" height="9.9" fill="#f23645"/>
<rect x="720" y="314.0" width="3" height="4.4" fill="#f23645"/>
<rect x="722.95" y="319.0" width="1.1" height="32.6" fill="#f23645"/>
<rect x="723" y="319.0" width="2" height="32.6" fill="#f23645"/>
<rect x="725.95" y="345.0" width="1.1" height="17.7" fill="#f23645"/>
<rect x="725" y="349.1" width="3" height="13.1" fill="#f23645"/>
<rect x="728.95" y="345.0" width="1.1" height="14.0" fill="#f23645"/>
<rect x="728" y="353.6" width="3" height="1.0" fill="#f23645"/>
<rect x="731.95" y="335.1" width="1.1" height="33.6" fill="#f23645"/>
<rect x="731" y="345.0" width="3" height="23.7" fill="#f23645"/>
<rect x="733.95" y="349.1" width="1.1" height="15.9" fill="#089981"/>
<rect x="734" y="349.2" width="2" height="8.8" fill="#089981"/>
<rect x="736.95" y="343.0" width="1.1" height="13.6" fill="#089981"/>
<rect x="736" y="349.9" width="3" height="6.7" fill="#089981"/>
<rect x="739.95" y="346.0" width="1.1" height="8.6" fill="#089981"/>
<rect x="739" y="352.6" width="3" height="1.3" fill="#089981"/>
<rect x="742.95" y="341.0" width="1.1" height="13.1" fill="#089981"/>
<rect x="742" y="350.0" width="3" height="3.9" fill="#089981"/>
<rect x="744.95" y="342.0" width="1.1" height="13.6" fill="#089981"/>
<rect x="745" y="344.0" width="2" height="6.0" fill="#089981"/>
<rect x="747.95" y="344.0" width="1.1" height="17.7" fill="#f23645"/>
<rect x="747" y="345.9" width="3" height="15.8" fill="#f23645"/>
<rect x="750.95" y="355.1" width="1.1" height="28.7" fill="#f23645"/>
<rect x="750" y="356.1" width="3" height="27.7" fill="#f23645"/>
<rect x="752.95" y="372.2" width="1.1" height="20.4" fill="#f23645"/>
<rect x="753" y="372.2" width="2" height="20.4" fill="#f23645"/>
<rect x="755.95" y="390.1" width="1.1" height="18.7" fill="#f23645"/>
<rect x="755" y="390.1" width="3" height="12.3" fill="#f23645"/>
<rect x="758.95" y="397.2" width="1.1" height="58.4" fill="#f23645"/>
<rect x="758" y="397.2" width="3" height="58.4" fill="#f23645"/>
<rect x="761.95" y="425.6" width="1.1" height="25.0" fill="#f23645"/>
<rect x="761" y="426.2" width="3" height="24.4" fill="#f23645"/>
<rect x="763.95" y="405.3" width="1.1" height="35.4" fill="#089981"/>
<rect x="764" y="407.0" width="2" height="33.7" fill="#089981"/>
<rect x="766.95" y="364.0" width="1.1" height="40.2" fill="#089981"/>
<rect x="766" y="364.7" width="3" height="39.5" fill="#089981"/>
<rect x="769.95" y="365.2" width="1.1" height="15.6" fill="#f23645"/>
<rect x="769" y="365.2" width="3" height="8.5" fill="#f23645"/>
<rect x="772.95" y="370.2" width="1.1" height="22.4" fill="#f23645"/>
<rect x="772" y="370.2" width="3" height="22.4" fill="#f23645"/>
<rect x="774.95" y="389.3" width="1.1" height="29.4" fill="#f23645"/>
<rect x="775" y="389.3" width="2" height="29.4" fill="#f23645"/>
<rect x="777.95" y="412.3" width="1.1" height="22.4" fill="#f23645"/>
<rect x="777" y="412.3" width="3" height="16.3" fill="#f23645"/>
<rect x="780.95" y="409.2" width="1.1" height="24.6" fill="#089981"/>
<rect x="780" y="416.1" width="3" height="6.6" fill="#089981"/>
<rect x="783.95" y="400.1" width="1.1" height="19.7" fill="#089981"/>
<rect x="783" y="400.7" width="3" height="18.0" fill="#089981"/>
<rect x="785.95" y="401.0" width="1.1" height="11.9" fill="#f23645"/>
<rect x="786" y="401.0" width="2" height="11.9" fill="#f23645"/>
<rect x="788.95" y="410.0" width="1.1" height="21.5" fill="#f23645"/>
<rect x="788" y="410.0" width="3" height="18.0" fill="#f23645"/>
<rect x="791.95" y="402.2" width="1.1" height="24.4" fill="#089981"/>
<rect x="791" y="405.0" width="3" height="21.6" fill="#089981"/>
<rect x="794.95" y="394.0" width="1.1" height="11.9" fill="#089981"/>
<rect x="794" y="399.0" width="3" height="5.7" fill="#089981"/>
<rect x="796.95" y="398.0" width="1.1" height="15.8" fill="#f23645"/>
<rect x="797" y="398.0" width="2" height="13.1" fill="#f23645"/>
<rect x="799.95" y="401.0" width="1.1" height="9.8" fill="#089981"/>
<rect x="799" y="404.2" width="3" height="6.6" fill="#089981"/>
<rect x="802.95" y="400.1" width="1.1" height="11.6" fill="#f23645"/>
<rect x="802" y="402.2" width="3" height="3.8" fill="#f23645"/>
<rect x="805.95" y="402.2" width="1.1" height="16.5" fill="#f23645"/>
<rect x="805" y="403.0" width="3" height="8.7" fill="#f23645"/>
<rect x="807.95" y="394.1" width="1.1" height="18.8" fill="#089981"/>
<rect x="808" y="394.1" width="2" height="17.0" fill="#089981"/>
<rect x="810.95" y="389.1" width="1.1" height="9.6" fill="#f23645"/>
<rect x="810" y="393.4" width="3" height="5.3" fill="#f23645"/>
<rect x="813.95" y="394.3" width="1.1" height="32.3" fill="#f23645"/>
<rect x="813" y="394.3" width="3" height="32.3" fill="#f23645"/>
<rect x="816.95" y="405.9" width="1.1" height="11.6" fill="#f23645"/>
<rect x="816" y="415.0" width="3" height="2.5" fill="#f23645"/>
<rect x="818.95" y="408.2" width="1.1" height="16.9" fill="#089981"/>
<rect x="819" y="411.7" width="2" height="5.3" fill="#089981"/>
<rect x="821.95" y="395.2" width="1.1" height="17.7" fill="#089981"/>
<rect x="821" y="399.0" width="3" height="13.9" fill="#089981"/>
<rect x="824.95" y="366.0" width="1.1" height="29.7" fill="#089981"/>
<rect x="824" y="378.1" width="3" height="17.6" fill="#089981"/>
<rect x="827.95" y="358.8" width="1.1" height="18.1" fill="#089981"/>
<rect x="827" y="361.0" width="3" height="14.3" fill="#089981"/>
<rect x="829.95" y="348.0" width="1.1" height="16.1" fill="#089981"/>
<rect x="830" y="348.0" width="2" height="16.1" fill="#089981"/>
<rect x="832.95" y="358.0" width="1.1" height="32.8" fill="#f23645"/>
<rect x="832" y="358.0" width="3" height="24.1" fill="#f23645"/>
<rect x="835.95" y="383.1" width="1.1" height="15.7" fill="#089981"/>
<rect x="835" y="383.1" width="3" height="5.8" fill="#089981"/>
<rect x="838.95" y="367.0" width="1.1" height="13.9" fill="#089981"/>
<rect x="838" y="373.2" width="3" height="7.7" fill="#089981"/>
<rect x="840.95" y="361.0" width="1.1" height="12.2" fill="#089981"/>
<rect x="841" y="362.0" width="2" height="10.2" fill="#089981"/>
<rect x="843.95" y="353.0" width="1.1" height="6.8" fill="#f23645"/>
<rect x="843" y="358.3" width="3" height="1.5" fill="#f23645"/>
<rect x="846.95" y="353.9" width="1.1" height="10.9" fill="#f23645"/>
<rect x="846" y="358.3" width="3" height="6.5" fill="#f23645"/>
<rect x="848.95" y="358.0" width="1.1" height="13.9" fill="#089981"/>
<rect x="849" y="358.0" width="2" height="9.9" fill="#089981"/>
<rect x="851.95" y="353.0" width="1.1" height="6.2" fill="#089981"/>
<rect x="851" y="355.8" width="3" height="2.2" fill="#089981"/>
<rect x="854.95" y="355.1" width="1.1" height="13.6" fill="#f23645"/>
<rect x="854" y="355.1" width="3" height="13.6" fill="#f23645"/>
<rect x="857.95" y="368.2" width="1.1" height="16.4" fill="#f23645"/>
<rect x="857" y="368.2" width="3" height="16.4" fill="#f23645"/>
<rect x="859.95" y="383.1" width="1.1" height="18.6" fill="#f23645"/>
<rect x="860" y="383.1" width="2" height="8.9" fill="#f23645"/>
<rect x="862.95" y="388.9" width="1.1" height="11.8" fill="#089981"/>
<rect x="862" y="388.9" width="3" height="1.2" fill="#089981"/>
<rect x="865.95" y="386.1" width="1.1" height="11.8" fill="#f23645"/>
<rect x="865" y="386.1" width="3" height="10.2" fill="#f23645"/>
<rect x="868.95" y="392.6" width="1.1" height="5.6" fill="#089981"/>
<rect x="868" y="393.0" width="3" height="1.2" fill="#089981"/>
<rect x="870.95" y="386.1" width="1.1" height="15.6" fill="#089981"/>
<rect x="871" y="386.1" width="2" height="7.8" fill="#089981"/>
<rect x="873.95" y="372.2" width="1.1" height="16.3" fill="#089981"/>
<rect x="873" y="372.2" width="3" height="11.7" fill="#089981"/>
<rect x="876.95" y="378.1" width="1.1" height="22.6" fill="#f23645"/>
<rect x="876" y="378.1" width="3" height="16.4" fill="#f23645"/>
<rect x="879.95" y="400.9" width="1.1" height="13.1" fill="#f23645"/>
<rect x="879" y="400.9" width="3" height="6.9" fill="#f23645"/>
<rect x="881.95" y="447.1" width="1.1" height="19.9" fill="#f23645"/>
<rect x="882" y="447.1" width="2" height="15.9" fill="#f23645"/>
<rect x="884.95" y="423.9" width="1.1" height="36.7" fill="#089981"/>
<rect x="884" y="423.9" width="3" height="36.7" fill="#089981"/>
<rect x="887.95" y="383.0" width="1.1" height="27.8" fill="#f23645"/>
<rect x="887" y="383.0" width="3" height="25.6" fill="#f23645"/>
<rect x="890.95" y="405.8" width="1.1" height="26.0" fill="#089981"/>
<rect x="890" y="407.2" width="3" height="8.5" fill="#089981"/>
<rect x="892.95" y="394.0" width="1.1" height="10.4" fill="#089981"/>
<rect x="893" y="394.0" width="2" height="10.4" fill="#089981"/>
<rect x="895.95" y="385.1" width="1.1" height="12.9" fill="#089981"/>
<rect x="895" y="385.1" width="3" height="12.9" fill="#089981"/>
<rect x="898.95" y="387.3" width="1.1" height="11.4" fill="#f23645"/>
<rect x="898" y="387.3" width="3" height="9.5" fill="#f23645"/>
<rect x="901.95" y="392.0" width="1.1" height="6.7" fill="#f23645"/>
<rect x="901" y="393.7" width="3" height="2.5" fill="#f23645"/>
<rect x="903.95" y="393.0" width="1.1" height="7.8" fill="#f23645"/>
<rect x="904" y="394.0" width="2" height="1.4" fill="#f23645"/>
<rect x="906.95" y="389.1" width="1.1" height="11.7" fill="#089981"/>
<rect x="906" y="389.1" width="3" height="4.9" fill="#089981"/>
<rect x="909.95" y="385.8" width="1.1" height="7.9" fill="#f23645"/>
<rect x="909" y="389.1" width="3" height="3.1" fill="#f23645"/>
<rect x="912.95" y="361.9" width="1.1" height="24.0" fill="#089981"/>
<rect x="912" y="366.8" width="3" height="19.1" fill="#089981"/>
<rect x="914.95" y="356.0" width="1.1" height="15.5" fill="#f23645"/>
<rect x="915" y="362.4" width="2" height="9.1" fill="#f23645"/>
<rect x="917.95" y="364.1" width="1.1" height="12.5" fill="#f23645"/>
<rect x="917" y="366.8" width="3" height="4.7" fill="#f23645"/>
<rect x="920.95" y="344.3" width="1.1" height="21.6" fill="#089981"/>
<rect x="920" y="349.1" width="3" height="16.8" fill="#089981"/>
<rect x="923.95" y="328.1" width="1.1" height="17.6" fill="#089981"/>
<rect x="923" y="337.4" width="3" height="8.3" fill="#089981"/>
<rect x="925.95" y="329.1" width="1.1" height="19.6" fill="#f23645"/>
<rect x="926" y="335.4" width="2" height="13.3" fill="#f23645"/>
<rect x="928.95" y="331.0" width="1.1" height="15.8" fill="#089981"/>
<rect x="928" y="335.0" width="3" height="11.8" fill="#089981"/>
<rect x="931.95" y="311.2" width="1.1" height="16.4" fill="#089981"/>
<rect x="931" y="325.1" width="3" height="2.5" fill="#089981"/>
<rect x="933.95" y="314.1" width="1.1" height="27.7" fill="#f23645"/>
<rect x="934" y="323.7" width="2" height="18.1" fill="#f23645"/>
<rect x="936.95" y="320.0" width="1.1" height="11.8" fill="#089981"/>
<rect x="936" y="327.1" width="3" height="3.9" fill="#089981"/>
<rect x="939.95" y="303.1" width="1.1" height="14.7" fill="#089981"/>
<rect x="939" y="303.1" width="3" height="14.0" fill="#089981"/>
<rect x="942.95" y="297.9" width="1.1" height="8.9" fill="#f23645"/>
<rect x="942" y="305.0" width="3" height="1.8" fill="#f23645"/>
<rect x="944.95" y="310.0" width="1.1" height="20.6" fill="#f23645"/>
<rect x="945" y="310.0" width="2" height="15.9" fill="#f23645"/>
<rect x="947.95" y="323.7" width="1.1" height="13.9" fill="#089981"/>
<rect x="947" y="325.1" width="3" height="1.5" fill="#089981"/>
<rect x="950.95" y="321.2" width="1.1" height="6.9" fill="#f23645"/>
<rect x="950" y="321.2" width="3" height="6.9" fill="#f23645"/>
<rect x="953.95" y="327.1" width="1.1" height="26.7" fill="#f23645"/>
<rect x="953" y="327.1" width="3" height="26.7" fill="#f23645"/>
<rect x="955.95" y="344.3" width="1.1" height="12.5" fill="#089981"/>
<rect x="956" y="344.3" width="2" height="8.1" fill="#089981"/>
<rect x="958.95" y="348.2" width="1.1" height="18.6" fill="#f23645"/>
<rect x="958" y="348.2" width="3" height="11.5" fill="#f23645"/>
<rect x="961.95" y="336.2" width="1.1" height="17.6" fill="#089981"/>
<rect x="961" y="336.2" width="3" height="17.6" fill="#089981"/>
<rect x="964.95" y="337.9" width="1.1" height="7.1" fill="#f23645"/>
<rect x="964" y="338.1" width="3" height="3.7" fill="#f23645"/>
<rect x="966.95" y="339.9" width="1.1" height="5.1" fill="#f23645"/>
<rect x="967" y="341.3" width="2" height="1.9" fill="#f23645"/>
<rect x="969.95" y="322.9" width="1.1" height="14.7" fill="#089981"/>
<rect x="969" y="334.0" width="3" height="3.6" fill="#089981"/>
<rect x="972.95" y="328.1" width="1.1" height="8.4" fill="#f23645"/>
<rect x="972" y="328.1" width="3" height="8.4" fill="#f23645"/>
<rect x="975.95" y="326.6" width="1.1" height="26.0" fill="#f23645"/>
<rect x="975" y="328.8" width="3" height="23.8" fill="#f23645"/>
<rect x="977.95" y="346.2" width="1.1" height="9.8" fill="#089981"/>
<rect x="978" y="348.7" width="2" height="1.4" fill="#089981"/>
<rect x="980.95" y="336.2" width="1.1" height="10.3" fill="#089981"/>
<rect x="980" y="336.2" width="3" height="10.3" fill="#089981"/>
<rect x="983.95" y="332.9" width="1.1" height="12.1" fill="#f23645"/>
<rect x="983" y="334.4" width="3" height="10.6" fill="#f23645"/>
<rect x="986.95" y="338.8" width="1.1" height="8.0" fill="#f23645"/>
<rect x="986" y="344.3" width="3" height="1.4" fill="#f23645"/>
<rect x="988.95" y="338.4" width="1.1" height="5.1" fill="#089981"/>
<rect x="989" y="338.4" width="2" height="5.1" fill="#089981"/>
<rect x="991.95" y="336.2" width="1.1" height="15.4" fill="#f23645"/>
<rect x="991" y="337.9" width="3" height="13.0" fill="#f23645"/>
<rect x="994.95" y="342.1" width="1.1" height="8.6" fill="#089981"/>
<rect x="994" y="342.8" width="3" height="5.9" fill="#089981"/>
<rect x="997.95" y="333.9" width="1.1" height="6.9" fill="#f23645"/>
<rect x="997" y="338.2" width="3" height="2.6" fill="#f23645"/>
<rect x="999.95" y="344.5" width="1.1" height="8.4" fill="#f23645"/>
<rect x="1000" y="344.5" width="2" height="4.2" fill="#f23645"/>
<rect x="1002.95" y="340.1" width="1.1" height="7.0" fill="#f23645"/>
<rect x="1002" y="344.5" width="3" height="2.6" fill="#f23645"/>
<rect x="1005.95" y="341.8" width="1.1" height="11.9" fill="#f23645"/>
<rect x="1005" y="344.1" width="3" height="9.6" fill="#f23645"/>
<rect x="1008.95" y="346.1" width="1.1" height="9.8" fill="#089981"/>
<rect x="1008" y="348.4" width="3" height="3.6" fill="#089981"/>
<rect x="1010.95" y="346.1" width="1.1" height="7.8" fill="#f23645"/>
<rect x="1011" y="348.0" width="2" height="4.6" fill="#f23645"/>
<rect x="1013.95" y="360.8" width="1.1" height="20.1" fill="#f23645"/>
<rect x="1013" y="360.8" width="3" height="18.1" fill="#f23645"/>
<rect x="1016.95" y="353.9" width="1.1" height="15.8" fill="#089981"/>
<rect x="1016" y="361.8" width="3" height="7.9" fill="#089981"/>
<rect x="1018.95" y="352.0" width="1.1" height="7.9" fill="#089981"/>
<rect x="1019" y="355.0" width="2" height="4.9" fill="#089981"/>
<rect x="1021.95" y="350.7" width="1.1" height="7.9" fill="#f23645"/>
<rect x="1021" y="351.3" width="3" height="4.0" fill="#f23645"/>
<rect x="1024.95" y="334.9" width="1.1" height="18.8" fill="#089981"/>
<rect x="1024" y="336.8" width="3" height="16.9" fill="#089981"/>
<rect x="1027.95" y="328.9" width="1.1" height="18.7" fill="#f23645"/>
<rect x="1027" y="335.8" width="3" height="11.8" fill="#f23645"/>
<rect x="1029.95" y="333.9" width="1.1" height="11.5" fill="#089981"/>
<rect x="1030" y="334.2" width="2" height="2.0" fill="#089981"/>
<rect x="1032.95" y="334.9" width="1.1" height="6.9" fill="#089981"/>
<rect x="1032" y="334.9" width="3" height="1.3" fill="#089981"/>
<rect x="1035.95" y="320.0" width="1.1" height="19.7" fill="#089981"/>
<rect x="1035" y="323.9" width="3" height="15.8" fill="#089981"/>
<rect x="1038.95" y="323.9" width="1.1" height="16.9" fill="#f23645"/>
<rect x="1038" y="323.9" width="3" height="16.9" fill="#f23645"/>
<rect x="1040.95" y="334.5" width="1.1" height="9.2" fill="#089981"/>
<rect x="1041" y="334.5" width="2" height="4.3" fill="#089981"/>
<rect x="1043.95" y="328.9" width="1.1" height="11.9" fill="#089981"/>
<rect x="1043" y="331.8" width="3" height="3.1" fill="#089981"/>
<rect x="1046.95" y="315.5" width="1.1" height="16.3" fill="#089981"/>
<rect x="1046" y="316.4" width="3" height="15.4" fill="#089981"/>
<rect x="1049.95" y="309.9" width="1.1" height="17.1" fill="#f23645"/>
<rect x="1049" y="315.1" width="3" height="11.9" fill="#f23645"/>
<rect x="1051.95" y="319.7" width="1.1" height="8.2" fill="#f23645"/>
<rect x="1052" y="319.7" width="2" height="6.6" fill="#f23645"/>
<rect x="1054.95" y="306.8" width="1.1" height="15.8" fill="#089981"/>
<rect x="1054" y="312.1" width="3" height="10.5" fill="#089981"/>
<rect x="1057.95" y="308.9" width="1.1" height="18.1" fill="#f23645"/>
<rect x="1057" y="311.2" width="3" height="15.8" fill="#f23645"/>
<rect x="1060.95" y="332.9" width="1.1" height="25.7" fill="#f23645"/>
<rect x="1060" y="332.9" width="3" height="21.0" fill="#f23645"/>
<rect x="1062.95" y="348.0" width="1.1" height="15.8" fill="#f23645"/>
<rect x="1063" y="350.7" width="2" height="12.5" fill="#f23645"/>
<rect x="1065.95" y="352.0" width="1.1" height="10.5" fill="#f23645"/>
<rect x="1065" y="357.9" width="3" height="3.3" fill="#f23645"/>
<rect x="1068.95" y="348.9" width="1.1" height="10.0" fill="#089981"/>
<rect x="1068" y="348.9" width="3" height="10.0" fill="#089981"/>
<rect x="1071.95" y="347.1" width="1.1" height="7.9" fill="#f23645"/>
<rect x="1071" y="347.1" width="3" height="2.6" fill="#f23645"/>
<rect x="1073.95" y="326.1" width="1.1" height="20.6" fill="#089981"/>
<rect x="1074" y="326.1" width="2" height="20.6" fill="#089981"/>
<rect x="1076.95" y="325.0" width="1.1" height="5.9" fill="#f23645"/>
<rect x="1076" y="327.4" width="3" height="3.5" fill="#f23645"/>
<rect x="1079.95" y="326.2" width="1.1" height="13.6" fill="#f23645"/>
<rect x="1079" y="326.2" width="3" height="10.9" fill="#f23645"/>
<rect x="1082.95" y="335.2" width="1.1" height="16.7" fill="#f23645"/>
<rect x="1082" y="337.1" width="3" height="6.6" fill="#f23645"/>
<rect x="1084.95" y="343.0" width="1.1" height="13.6" fill="#f23645"/>
<rect x="1085" y="343.0" width="2" height="13.6" fill="#f23645"/>
<rect x="1087.95" y="353.2" width="1.1" height="5.6" fill="#f23645"/>
<rect x="1087" y="354.3" width="3" height="3.4" fill="#f23645"/>
<rect x="1090.95" y="357.7" width="1.1" height="19.2" fill="#f23645"/>
<rect x="1090" y="357.7" width="3" height="14.5" fill="#f23645"/>
<rect x="1093.95" y="359.0" width="1.1" height="13.0" fill="#089981"/>
<rect x="1093" y="359.0" width="3" height="12.1" fill="#089981"/>
<rect x="1095.95" y="350.1" width="1.1" height="7.8" fill="#089981"/>
<rect x="1096" y="350.1" width="2" height="7.8" fill="#089981"/>
<rect x="1098.95" y="344.1" width="1.1" height="8.6" fill="#f23645"/>
<rect x="1098" y="348.8" width="3" height="1.1" fill="#f23645"/>
<rect x="1101.95" y="335.9" width="1.1" height="13.8" fill="#089981"/>
<rect x="1101" y="344.9" width="3" height="4.8" fill="#089981"/>
<rect x="1104.95" y="342.1" width="1.1" height="15.6" fill="#f23645"/>
<rect x="1104" y="342.1" width="3" height="5.6" fill="#f23645"/>
<rect x="1106.95" y="343.7" width="1.1" height="11.8" fill="#f23645"/>
<rect x="1107" y="343.7" width="2" height="5.1" fill="#f23645"/>
<rect x="1109.95" y="351.6" width="1.1" height="21.1" fill="#f23645"/>
<rect x="1109" y="351.6" width="3" height="19.5" fill="#f23645"/>
<rect x="1112.95" y="361.0" width="1.1" height="7.8" fill="#089981"/>
<rect x="1112" y="363.3" width="3" height="5.5" fill="#089981"/>
<rect x="1114.95" y="351.9" width="1.1" height="10.5" fill="#089981"/>
<rect x="1115" y="354.3" width="2" height="8.1" fill="#089981"/>
<rect x="1117.95" y="346.0" width="1.1" height="16.7" fill="#f23645"/>
<rect x="1117" y="351.2" width="3" height="11.5" fill="#f23645"/>
<rect x="1120.95" y="356.3" width="1.1" height="11.4" fill="#089981"/>
<rect x="1120" y="356.8" width="3" height="1.1" fill="#089981"/>
<rect x="1123.95" y="353.0" width="1.1" height="10.8" fill="#f23645"/>
<rect x="1123" y="353.8" width="3" height="10.0" fill="#f23645"/>
<rect x="1125.95" y="363.5" width="1.1" height="10.4" fill="#f23645"/>
<rect x="1126" y="363.5" width="2" height="2.6" fill="#f23645"/>
<rect x="1128.95" y="360.1" width="1.1" height="6.5" fill="#f23645"/>
<rect x="1128" y="363.5" width="3" height="2.6" fill="#f23645"/>
<rect x="1131.95" y="359.0" width="1.1" height="8.7" fill="#f23645"/>
<rect x="1131" y="359.0" width="3" height="7.1" fill="#f23645"/>
<rect x="1134.95" y="367.2" width="1.1" height="27.5" fill="#f23645"/>
<rect x="1134" y="367.2" width="3" height="27.5" fill="#f23645"/>
<rect x="1136.95" y="365.3" width="1.1" height="20.8" fill="#089981"/>
<rect x="1137" y="365.3" width="2" height="20.3" fill="#089981"/>
<rect x="1139.95" y="365.3" width="1.1" height="19.4" fill="#f23645"/>
<rect x="1139" y="365.3" width="3" height="19.4" fill="#f23645"/>
<rect x="1142.95" y="380.0" width="1.1" height="15.7" fill="#f23645"/>
<rect x="1142" y="384.5" width="3" height="8.2" fill="#f23645"/>
<rect x="1145.95" y="388.0" width="1.1" height="13.0" fill="#f23645"/>
<rect x="1145" y="388.0" width="3" height="7.2" fill="#f23645"/>
<rect x="1147.95" y="393.9" width="1.1" height="15.1" fill="#f23645"/>
<rect x="1148" y="394.2" width="2" height="3.9" fill="#f23645"/>
<rect x="1150.95" y="401.0" width="1.1" height="9.9" fill="#f23645"/>
<rect x="1150" y="401.0" width="3" height="6.8" fill="#f23645"/>
<rect x="1153.95" y="399.8" width="1.1" height="6.1" fill="#089981"/>
<rect x="1153" y="401.9" width="3" height="4.0" fill="#089981"/>
<rect x="1156.95" y="387.0" width="1.1" height="12.1" fill="#089981"/>
<rect x="1156" y="392.9" width="3" height="5.0" fill="#089981"/>
<rect x="1158.95" y="389.0" width="1.1" height="14.8" fill="#f23645"/>
<rect x="1159" y="390.5" width="2" height="13.3" fill="#f23645"/>
<rect x="1161.95" y="395.2" width="1.1" height="8.6" fill="#089981"/>
<rect x="1161" y="399.1" width="3" height="3.8" fill="#089981"/>
<rect x="1164.95" y="393.2" width="1.1" height="8.4" fill="#f23645"/>
<rect x="1164" y="396.0" width="3" height="3.8" fill="#f23645"/>
<rect x="1167.95" y="394.4" width="1.1" height="6.6" fill="#f23645"/>
<rect x="1167" y="396.0" width="3" height="3.1" fill="#f23645"/>
<rect x="1169.95" y="393.9" width="1.1" height="9.0" fill="#f23645"/>
<rect x="1170" y="396.0" width="2" height="6.2" fill="#f23645"/>
<rect x="1172.95" y="400.1" width="1.1" height="16.6" fill="#f23645"/>
<rect x="1172" y="400.1" width="3" height="13.3" fill="#f23645"/>
<rect x="1175.95" y="391.1" width="1.1" height="20.7" fill="#089981"/>
<rect x="1175" y="392.9" width="3" height="18.9" fill="#089981"/>
<rect x="1178.95" y="377.1" width="1.1" height="14.6" fill="#089981"/>
<rect x="1178" y="380.3" width="3" height="9.6" fill="#089981"/>
<rect x="1180.95" y="375.0" width="1.1" height="9.3" fill="#089981"/>
<rect x="1181" y="375.0" width="2" height="9.3" fill="#089981"/>
<rect x="1183.95" y="363.0" width="1.1" height="8.9" fill="#089981"/>
<rect x="1183" y="367.6" width="3" height="3.7" fill="#089981"/>
<rect x="1186.95" y="370.0" width="1.1" height="9.6" fill="#f23645"/>
<rect x="1186" y="370.0" width="3" height="9.6" fill="#f23645"/>
<rect x="1189.95" y="374.1" width="1.1" height="26.5" fill="#f23645"/>
<rect x="1189" y="377.1" width="3" height="23.5" fill="#f23645"/>
<rect x="1191.95" y="393.2" width="1.1" height="14.6" fill="#f23645"/>
<rect x="1192" y="396.9" width="2" height="3.7" fill="#f23645"/>
<rect x="1194.95" y="398.5" width="1.1" height="19.0" fill="#f23645"/>
<rect x="1194" y="399.8" width="3" height="16.9" fill="#f23645"/>
<rect x="1197.95" y="411.3" width="1.1" height="14.5" fill="#f23645"/>
<rect x="1197" y="411.3" width="3" height="8.3" fill="#f23645"/>
<rect x="1199.95" y="412.1" width="1.1" height="15.5" fill="#f23645"/>
<rect x="1200" y="415.5" width="2" height="11.5" fill="#f23645"/>
<rect x="1202.95" y="427.0" width="1.1" height="15.0" fill="#f23645"/>
<rect x="1202" y="427.0" width="3" height="8.7" fill="#f23645"/>
<rect x="1205.95" y="418.0" width="1.1" height="21.7" fill="#089981"/>
<rect x="1205" y="419.9" width="3" height="15.8" fill="#089981"/>
<rect x="1208.95" y="414.0" width="1.1" height="8.7" fill="#089981"/>
<rect x="1208" y="417.1" width="3" height="3.3" fill="#089981"/>
<rect x="1210.95" y="401.9" width="1.1" height="11.5" fill="#089981"/>
<rect x="1211" y="401.9" width="2" height="11.5" fill="#089981"/>
<rect x="1213.95" y="397.3" width="1.1" height="28.5" fill="#f23645"/>
<rect x="1213" y="401.0" width="3" height="24.8" fill="#f23645"/>
<rect x="1216.95" y="407.2" width="1.1" height="17.3" fill="#089981"/>
<rect x="1216" y="407.2" width="3" height="17.3" fill="#089981"/>
<rect x="1219.95" y="395.2" width="1.1" height="9.9" fill="#089981"/>
<rect x="1219" y="404.1" width="3" height="1.0" fill="#089981"/>
<rect x="1221.95" y="400.1" width="1.1" height="13.9" fill="#f23645"/>
<rect x="1222" y="401.0" width="2" height="13.0" fill="#f23645"/>
<rect x="1224.95" y="410.3" width="1.1" height="7.4" fill="#f23645"/>
<rect x="1224" y="414.0" width="3" height="3.7" fill="#f23645"/>
<rect x="1227.95" y="408.3" width="1.1" height="16.6" fill="#089981"/>
<rect x="1227" y="414.1" width="3" height="6.8" fill="#089981"/>
<rect x="1230.95" y="401.1" width="1.1" height="13.7" fill="#089981"/>
<rect x="1230" y="409.2" width="3" height="5.6" fill="#089981"/>
<rect x="1232.95" y="400.9" width="1.1" height="8.3" fill="#f23645"/>
<rect x="1233" y="402.4" width="2" height="3.7" fill="#f23645"/>
<rect x="1235.95" y="397.2" width="1.1" height="8.9" fill="#f23645"/>
<rect x="1235" y="402.4" width="3" height="3.7" fill="#f23645"/>
<rect x="1238.95" y="399.3" width="1.1" height="8.7" fill="#f23645"/>
<rect x="1238" y="399.3" width="3" height="8.0" fill="#f23645"/>
<rect x="1241.95" y="395.0" width="1.1" height="13.0" fill="#f23645"/>
<rect x="1241" y="401.1" width="3" height="6.9" fill="#f23645"/>
<rect x="1243.95" y="396.8" width="1.1" height="10.5" fill="#f23645"/>
<rect x="1244" y="401.1" width="2" height="6.2" fill="#f23645"/>
<rect x="1246.95" y="405.5" width="1.1" height="14.2" fill="#f23645"/>
<rect x="1246" y="405.5" width="3" height="14.2" fill="#f23645"/>
<rect x="1249.95" y="412.9" width="1.1" height="10.8" fill="#089981"/>
<rect x="1249" y="414.1" width="3" height="6.6" fill="#089981"/>
<rect x="1252.95" y="409.8" width="1.1" height="18.8" fill="#f23645"/>
<rect x="1252" y="412.0" width="3" height="16.6" fill="#f23645"/>
<rect x="1254.95" y="426.1" width="1.1" height="21.8" fill="#f23645"/>
<rect x="1255" y="426.1" width="2" height="13.4" fill="#f23645"/>
<rect x="1257.95" y="433.9" width="1.1" height="7.1" fill="#089981"/>
<rect x="1257" y="435.2" width="3" height="4.3" fill="#089981"/>
<rect x="1260.95" y="420.9" width="1.1" height="13.0" fill="#089981"/>
<rect x="1260" y="432.7" width="3" height="1.2" fill="#089981"/>
<rect x="1263.95" y="429.9" width="1.1" height="15.8" fill="#f23645"/>
<rect x="1263" y="433.1" width="3" height="7.7" fill="#f23645"/>
<rect x="1265.95" y="462.0" width="1.1" height="13.7" fill="#089981"/>
<rect x="1266" y="462.0" width="2" height="7.3" fill="#089981"/>
<rect x="1268.95" y="445.1" width="1.1" height="13.6" fill="#089981"/>
<rect x="1268" y="454.1" width="3" height="4.6" fill="#089981"/>
<rect x="1271.95" y="449.0" width="1.1" height="26.7" fill="#f23645"/>
<rect x="1271" y="449.0" width="3" height="15.6" fill="#f23645"/>
<rect x="1274.95" y="451.9" width="1.1" height="10.1" fill="#089981"/>
<rect x="1274" y="459.9" width="3" height="1.3" fill="#089981"/>
<rect x="1276.95" y="466.9" width="1.1" height="18.1" fill="#f23645"/>
<rect x="1277" y="470.0" width="2" height="10.0" fill="#f23645"/>
<rect x="1279.95" y="472.0" width="1.1" height="17.5" fill="#f23645"/>
<rect x="1279" y="476.0" width="3" height="13.5" fill="#f23645"/>
<rect x="1282.95" y="487.3" width="1.1" height="20.6" fill="#f23645"/>
<rect x="1282" y="487.3" width="3" height="18.6" fill="#f23645"/>
<rect x="1285.95" y="485.0" width="1.1" height="16.9" fill="#089981"/>
<rect x="1285" y="487.3" width="3" height="14.6" fill="#089981"/>
<rect x="1287.95" y="474.9" width="1.1" height="17.0" fill="#089981"/>
<rect x="1288" y="487.0" width="2" height="4.9" fill="#089981"/>
<rect x="1290.95" y="475.3" width="1.1" height="40.6" fill="#f23645"/>
<rect x="1290" y="484.2" width="3" height="31.7" fill="#f23645"/>
<rect x="1293.95" y="469.0" width="1.1" height="40.0" fill="#089981"/>
<rect x="1293" y="473.0" width="3" height="36.0" fill="#089981"/>
<rect x="1295.95" y="466.0" width="1.1" height="18.6" fill="#f23645"/>
<rect x="1296" y="467.0" width="2" height="10.0" fill="#f23645"/>
<rect x="1298.95" y="465.0" width="1.1" height="13.6" fill="#089981"/>
<rect x="1298" y="465.0" width="3" height="13.6" fill="#089981"/>
<rect x="1301.95" y="439.0" width="1.1" height="35.6" fill="#089981"/>
<rect x="1301" y="440.0" width="3" height="28.0" fill="#089981"/>
<rect x="1304.95" y="426.1" width="1.1" height="30.8" fill="#089981"/>
<rect x="1304" y="426.1" width="3" height="22.1" fill="#089981"/>
<rect x="1306.95" y="420.0" width="1.1" height="22.6" fill="#089981"/>
<rect x="1307" y="420.0" width="2" height="22.6" fill="#089981"/>
<rect x="1309.95" y="411.0" width="1.1" height="19.2" fill="#f23645"/>
<rect x="1309" y="421.4" width="3" height="8.8" fill="#f23645"/>
</g>
<line x1="10" y1="430.5" x2="1338" y2="430.5" stroke="#f23645" stroke-width="1.15" stroke-dasharray="1.15 1.85" stroke-dashoffset="0.08"/>
</svg>
<div class="t " id="hdr" style="left:9.4px;top:8px;letter-spacing:-0.036px;">Created with TradingView.com, Nov 25, 2025 20:33 UTC+8</div>
<div class="t " id="lg1" style="left:17.8px;top:35px;letter-spacing:-0.465px;">PSEi Index · 1D · PSE</div>
<div class="t " id="lgO" style="left:135.6px;top:35px;letter-spacing:0px;transform:scaleX(0.93);transform-origin:left;">O</div>
<div class="t r" id="lgv1" style="left:144.4px;top:35px;letter-spacing:-0.1px;">6,016.9200</div>
<div class="t " id="lgH" style="left:210.2px;top:35px;letter-spacing:0px;transform:scaleX(0.95);transform-origin:left;">H</div>
<div class="t r" id="lgv2" style="left:218.7px;top:35px;letter-spacing:-0.1px;">6,066.1800</div>
<div class="t " id="lgL" style="left:284.6px;top:35px;letter-spacing:0px;">L</div>
<div class="t r" id="lgv3" style="left:291.3px;top:35px;letter-spacing:-0.1px;">5,976.1700</div>
<div class="t " id="lgC" style="left:356.8px;top:35px;letter-spacing:0px;transform:scaleX(0.9);transform-origin:left;">C</div>
<div class="t r" id="lgv4" style="left:364.4px;top:35px;letter-spacing:-0.1px;">5,976.1700</div>
<div class="t r" id="lgchg" style="left:430.6px;top:35px;letter-spacing:-0.37px;">−45.4200</div>
<div class="t r" id="lgpct" style="left:483.2px;top:35px;letter-spacing:-0.56px;">(−0.75%)</div>
<div id="pax">
<div class="pl" id="pl7800" style="left:6.8px;top:3.5px;letter-spacing:-0.05px;">7,800.0000</div>
<div class="pl" id="pl7600" style="left:6.8px;top:46.5px;letter-spacing:-0.05px;">7,600.0000</div>
<div class="pl" id="pl7400" style="left:6.8px;top:89.5px;letter-spacing:-0.05px;">7,400.0000</div>
<div class="pl" id="pl7200" style="left:6.8px;top:132.5px;letter-spacing:-0.05px;">7,200.0000</div>
<div class="pl" id="pl7000" style="left:6.8px;top:175.5px;letter-spacing:-0.05px;">7,000.0000</div>
<div class="pl" id="pl6800" style="left:6.8px;top:218.5px;letter-spacing:-0.05px;">6,800.0000</div>
<div class="pl" id="pl6600" style="left:6.8px;top:261.5px;letter-spacing:-0.05px;">6,600.0000</div>
<div class="pl" id="pl6400" style="left:6.8px;top:304.5px;letter-spacing:-0.05px;">6,400.0000</div>
<div class="pl" id="pl6200" style="left:6.8px;top:347.5px;letter-spacing:-0.05px;">6,200.0000</div>
<div class="pl" id="pl6000" style="left:6.8px;top:390.5px;letter-spacing:-0.05px;">6,000.0000</div>
<div class="pl" id="pl5800" style="left:6.8px;top:433.5px;letter-spacing:-0.05px;">5,800.0000</div>
<div class="pl" id="pl5600" style="left:6.8px;top:476.5px;letter-spacing:-0.05px;">5,600.0000</div>
<div class="pl" id="pl5400" style="left:6.8px;top:519.5px;letter-spacing:-0.05px;">5,400.0000</div>
</div>
<div id="ptag" style="position:absolute;left:1340px;top:422px;width:72px;height:17px;background:#f23645;border-radius:0 2.5px 2.5px 0;"></div>
<div class="t b" id="ptxt" style="left:1346.5px;top:422.6px;letter-spacing:-0.1px;color:#fff;">5,976.1700</div>
<div class="tl b" id="tl0" style="left:32.1px;letter-spacing:0.45px;">2024</div>
<div class="tl" id="tl1" style="left:92.9px;letter-spacing:-0.35px;">Feb</div>
<div class="tl" id="tl2" style="left:146.9px;letter-spacing:-0.35px;">Mar</div>
<div class="tl" id="tl3" style="left:199.9px;letter-spacing:-0.35px;">Apr</div>
<div class="tl" id="tl4" style="left:253.9px;letter-spacing:-0.35px;">May</div>
<div class="tl" id="tl5" style="left:363.9px;letter-spacing:-0.35px;">Jul</div>
<div class="tl" id="tl6" style="left:423.9px;letter-spacing:-0.35px;">Aug</div>
<div class="tl" id="tl7" style="left:478.9px;letter-spacing:-0.35px;">Sep</div>
<div class="tl" id="tl8" style="left:536.9px;letter-spacing:-0.35px;">Oct</div>
<div class="tl" id="tl9" style="left:599.9px;letter-spacing:-0.35px;">Nov</div>
<div class="tl b" id="tl10" style="left:704.1px;letter-spacing:0.45px;">2025</div>
<div class="tl" id="tl11" style="left:761.9px;letter-spacing:-0.35px;">Feb</div>
<div class="tl" id="tl12" style="left:816.9px;letter-spacing:-0.35px;">Mar</div>
<div class="tl" id="tl13" style="left:923.9px;letter-spacing:-0.35px;">May</div>
<div class="tl" id="tl14" style="left:977.9px;letter-spacing:-0.35px;">Jun</div>
<div class="tl" id="tl15" style="left:1029.9px;letter-spacing:-0.35px;">Jul</div>
<div class="tl" id="tl16" style="left:1093.9px;letter-spacing:-0.35px;">Aug</div>
<div class="tl" id="tl17" style="left:1145.9px;letter-spacing:-0.35px;">Sep</div>
<div class="tl" id="tl18" style="left:1205.9px;letter-spacing:-0.35px;">Oct</div>
<div class="tl" id="tl19" style="left:1265.9px;letter-spacing:-0.35px;">Nov</div>
<div class="tl" id="tl20" style="left:1320.9px;letter-spacing:-0.35px;">Dec</div>
<svg style="position:absolute;left:12px;top:604.2px" width="30.3" height="23.6" viewBox="0 0 36 28"><path fill="#0f0f0f" d="M14 22H7V11H0V4h14v18zM28 22h-8l7.5-18h8L28 22z"/><circle fill="#0f0f0f" cx="20" cy="8" r="4"/></svg>
<div class="t b" id="tv" style="left:49.2px;top:603.5px;font-size:21px;line-height:24px;letter-spacing:-0.25px;">TradingView</div>
</body></html>
